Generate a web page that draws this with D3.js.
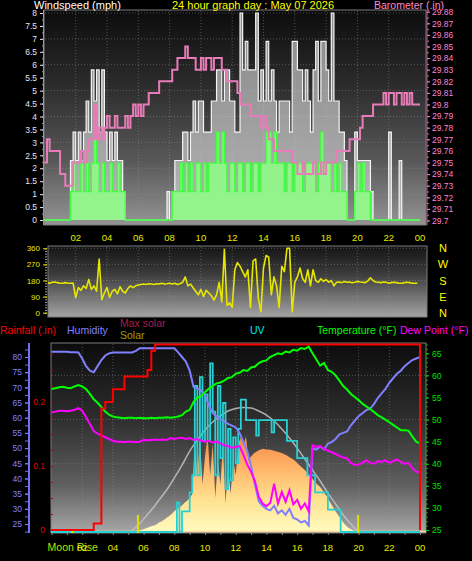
<!DOCTYPE html>
<html><head><meta charset="utf-8">
<script src="https://cdn.jsdelivr.net/npm/d3@7"></script>
<style>
html,body{margin:0;padding:0;background:#000;}
svg{display:block;}
text{font-family:"Liberation Sans",Arial,sans-serif;}
</style></head><body>
<svg id="c" width="472" height="561"></svg>
<script>
// ---------------- DATA ----------------
const titleText = "24 hour graph day : May 07 2026";
const hourTicks = [2,4,6,8,10,12,14,16,18,20,22,24];
const hourLabels = ["02","04","06","08","10","12","14","16","18","20","22","00"];
const windTicks = [0,0.5,1,1.5,2,2.5,3,3.5,4,4.5,5,5.5,6,6.5,7,7.5,8];
const baroTicks = [29.7,29.71,29.72,29.73,29.74,29.75,29.76,29.77,29.78,29.79,29.8,29.81,29.82,29.83,29.84,29.85,29.86,29.87,29.88];
const dirTicks = [0,90,180,270,360];
const compass = ["N","W","S","E","N"];
const compassDeg = [360,270,180,90,0];
const humTicks = [25,30,35,40,45,50,55,60,65,70,75,80];
const rainTicks = [0,0.1,0.2];
const tempTicks = [25,30,35,40,45,50,55,60,65];

// 10-minute samples (144 per day)
const windGust = [
0,0,0,0,0,0,0,0,0,0,
2.3,3.4,2.3,3.4,2.3,3.4,4.6,3.4,5.8,4.6,
5.8,3.4,5.8,3.4,2.3,3.4,2.3,3.4,2.3,2.3,
1.1,0,0,0,0,0,0,0,0,0,
0,0,0,0,0,0,0,1.1,0,1.1,
2.3,2.3,2.3,3.4,3.4,2.3,3.4,4.6,3.4,4.6,
4.6,3.4,3.4,3.4,4.6,4.6,5.8,5.8,4.6,5.8,
5.8,4.6,4.6,3.4,3.4,8.0,5.8,6.9,5.8,5.8,
5.8,8.0,4.6,5.8,4.6,6.9,4.6,5.8,4.6,3.4,
4.6,4.6,4.6,4.6,3.4,6.9,6.9,5.8,5.8,4.6,
5.8,4.6,3.4,5.8,6.9,4.6,6.9,6.9,5.8,4.6,
8.0,4.6,4.6,3.4,3.4,2.3,0,0,0,3.4,
2.3,2.3,2.3,2.3,2.3,1.1,0,0,0,0,
0,0,3.4,0,0,0,2.3,0,0,0,
0,0,0,0];
const windAvg = [
0,0,0,0,0,0,0,0,0,0,
1.1,2.2,1.1,1.1,2.2,1.1,2.2,1.1,2.2,3.1,
2.2,1.1,2.2,1.1,1.1,2.2,1.1,1.1,2.2,1.1,
1.1,0,0,0,0,0,0,0,0,0,
0,0,0,0,0,0,0,0,0,1.1,
1.1,1.1,2.2,1.1,2.2,1.1,2.2,1.1,2.2,2.2,
1.1,2.2,1.1,2.2,2.2,2.2,3.4,2.2,3.4,2.2,
1.1,2.2,2.2,1.1,2.2,2.2,1.1,2.2,2.2,1.1,
2.2,2.2,1.1,2.2,2.2,3.4,3.4,2.2,3.4,2.2,
2.2,2.2,1.1,2.2,2.2,1.1,2.2,2.2,2.2,1.1,
2.2,2.2,2.2,2.2,1.1,2.2,3.4,2.2,2.2,2.2,
1.1,2.2,1.1,2.2,1.1,1.1,0,0,0,1.1,
2.2,1.1,2.2,1.1,1.1,0,0,0,0,0,
0,0,0,0,0,0,0,0,0,0,
0,0,0,0];
const barometer = [
29.75,29.77,29.76,29.76,29.76,29.76,29.74,29.74,29.73,29.73,
29.73,29.75,29.75,29.75,29.76,29.75,29.76,29.77,29.77,29.80,
29.77,29.78,29.77,29.78,29.79,29.78,29.78,29.79,29.78,29.78,
29.78,29.79,29.78,29.79,29.80,29.79,29.80,29.79,29.80,29.80,
29.81,29.81,29.81,29.81,29.82,29.82,29.82,29.82,29.82,29.83,
29.83,29.84,29.84,29.84,29.85,29.84,29.84,29.84,29.83,29.83,
29.84,29.83,29.84,29.84,29.83,29.84,29.84,29.84,29.83,29.83,
29.82,29.82,29.82,29.82,29.81,29.80,29.80,29.80,29.80,29.79,
29.79,29.79,29.79,29.78,29.79,29.78,29.77,29.77,29.76,29.76,
29.76,29.76,29.76,29.76,29.76,29.75,29.75,29.74,29.74,29.75,
29.74,29.74,29.74,29.75,29.74,29.74,29.75,29.74,29.75,29.75,
29.75,29.75,29.76,29.76,29.76,29.76,29.76,29.77,29.77,29.77,
29.77,29.78,29.79,29.79,29.79,29.79,29.80,29.80,29.80,29.80,
29.81,29.80,29.81,29.81,29.80,29.81,29.81,29.80,29.81,29.80,
29.81,29.80,29.80,29.80];
const windDir = [
165,168,165,170,172,168,165,165,168,165,165,166,
84,140,125,150,135,186,130,150,120,300,73,110,140,85,
120,130,105,145,120,110,135,150,140,
150,155,158,160,158,162,160,158,162,160,165,160,162,165,160,165,158,162,170,
200,150,160,140,120,100,130,90,125,110,95,70,100,170,60,355,
40,55,30,240,280,260,230,200,240,30,290,300,80,5,250,320,310,
100,200,150,30,260,230,360,360,5,170,200,250,190,170,240,
150,240,180,170,190,175,185,170,180,150,
170,172,168,175,170,172,168,170,175,172,170,168,178,195,180,172,
170,168,172,170,165,168,170,168,165,165,168,170,168,165,165,165];

// 15-minute samples (97 points, 00:00 .. 24:00)
const humidity = [
81.7,81.7,81.7,81.7,81.7,81.6,81.6,81.5,
79.5,77,75.5,75,77,79,80.5,81.2,
81.5,81.5,81.5,81.5,81.5,81.5,
82,82.9,82.9,82.9,82.9,82.9,82.9,82.9,82.9,82.9,82.9,
81.5,80,78.5,
75.5,70.2,69.6,69,67.5,64,61.5,60.5,59.5,58.8,58,57.4,56.8,55,52,49,44,38,32.5,31,
30,29.5,31,28.5,29.5,28,30,27,26.5,25.5,26,24.5,
50,49.5,50.5,49.5,51.5,52,53,54.5,55,55.5,57.5,59,60.5,61.5,62.5,63,64.5,66.5,68,69.5,71.5,73,74.5,75.5,77,78,79,79.5,80];
const temperature = [
56.9,57.1,57.3,57.4,57.2,57.1,57.5,57.8,
57.5,56.9,55.8,54.6,53.8,52.8,51.8,51.1,
50.7,50.5,50.4,50.3,50.4,50.4,50.3,50.4,50.3,50.3,50.4,50.3,50.4,50.4,50.5,50.4,
50.5,
50.7,51.0,51.8,52.2,54.0,55.0,55.3,56.2,57.0,57.6,58.2,58.4,58.8,59.4,59.6,
60.4,60.6,61.2,61.0,61.8,62.0,62.8,63.2,63.4,64.2,64.6,65.0,64.8,65.4,65.2,65.8,65.6,66.2,66.0,66.5,
65.0,63.6,62.2,62.8,61.2,60.8,60.0,58.8,57.6,56.8,55.8,55.1,54.4,53.6,53.0,52.4,51.7,51.0,50.5,50.0,49.4,48.8,48.2,47.6,47.6,47.5,46.2,45.0,44.6];
const dewPoint = [
51.6,51.8,52.0,52.0,51.9,52.0,52.2,52.6,
52.0,50.6,49.0,47.4,46.8,46.4,46.0,45.6,
45.2,45.0,45.0,44.9,45.0,45.0,44.9,45.0,45.4,45.3,45.4,45.5,45.4,45.5,45.4,45.8,
45.6,45.8,45.9,45.6,45.8,45.4,45.6,45.2,45.0,45.2,44.8,45.0,44.6,44.2,44.0,43.6,
43.8,44.0,42.0,39.8,38.2,36.0,32.5,31.0,30.4,31.2,35.5,31.0,33.6,31.4,34.0,30.8,31.8,29.8,31.0,29.2,
44.2,43.8,44.0,43.4,43.0,42.6,42.2,41.8,41.4,41.2,40.2,39.7,39.8,40.2,40.8,40.2,40.0,40.6,40.4,40.8,40.2,40.6,41.0,40.4,40.0,40.2,39.0,38.2,38.0];
const rainfall = [
0,0,0,0,0,0,0,0,0,0,0,
0.01,0.01,0.19,0.2,0.2,0.22,0.22,0.22,0.24,0.24,0.24,0.24,0.24,0.24,0.25,0.28,
0.29,0.29,0.29,0.29,0.29,0.29,0.29,0.29,0.29,0.29,0.29,0.29,0.29,0.29,0.29,0.29,0.29,0.29,0.29,0.29,
0.29,0.29,0.29,0.29,0.29,0.29,0.29,0.29,0.29,0.29,0.29,0.29,0.29,0.29,0.29,0.29,0.29,0.29,0.29,0.29,
0.29,0.29,0.29,0.29,0.29,0.29,0.29,0.29,0.29,0.29,0.29,0.29,0.29,0.29,0.29,0.29,0.29,0.29,0.29,0.29,
0.29,0.29,0.29,0.29,0.29,0.29,0.29,0.29,0.29,
0];
// 30-minute samples (49 points)
const maxSolar = [
0,0,0,0,0,0,0,0,0,0,0,
26,69,116,169,222,286,354,428,487,540,582,614,640,653,659,656,640,619,587,545,497,444,386,328,270,206,148,90,42,5,
0,0,0,0,0,0,0,0];
// 10-minute samples (145 points)
const solar = [
0,0,0,0,0,0,0,0,0,0,0,0,0,0,0,0,0,0,0,0,0,0,0,0,0,0,0,0,0,0,0,0,
3,5,8,10,15,20,25,30,35,40,50,55,65,75,85,95,110,120,130,140,155,165,
180,200,480,300,500,250,400,510,300,470,180,380,250,460,150,350,200,380,300,470,500,460,505,380,400,415,425,432,438,440,
435,436,434,430,426,422,418,412,405,395,388,378,365,352,340,328,312,296,280,265,250,238,220,200,180,155,132,110,90,70,50,35,22,14,8,3,0,
0,0,0,0,0,0,0,0,0,0,0,0,0,0,0,0,0,0,0,0,0,0,0,0];
const uvIndex = [
0,0,0,0,0,0,0,0,0,0,0,0,0,0,0,0,0,0,0,0,0,0,0,0,0,0,0,0,0,0,0,0,0,0,0,0,0,0,0,0,0,0,0,0,0,0,0,0,0,
1.7,0,1.2,1.2,1.2,2.3,3.3,8.5,3.3,9.0,5.3,8.0,5.3,9.8,7.0,3.3,8.5,4.3,7.5,2.5,6.0,3.0,5.5,4.0,6.0,7.7,7.7,
6.5,6.5,6.5,6.5,5.6,6.5,6.5,6.5,6.5,6.5,5.8,6.5,6.5,6.5,6.5,6.5,5.3,5.3,5.3,5.3,4.3,4.3,4.3,4.3,3.3,3.3,3.3,
2.3,2.3,2.3,2.3,2.3,1.3,1.3,1.3,1.3,1.3,
0,0,0,0,0,0,0,0,0,0,0,0,0,0,0,0,0,0,0,0,0,0,0,0,0,0,0,0,0,0,0,0];
const sunEvents = [5.63, 19.97];
const moonRiseHour = 1.38;

// ---------------- DRAW ----------------
const svg = d3.select('#c');
const defs = svg.append('defs');
function vGrad(id, stops, user){
  const g = defs.append('linearGradient').attr('id', id);
  if (user) g.attr('gradientUnits','userSpaceOnUse').attr('x1',0).attr('x2',0).attr('y1',user[0]).attr('y2',user[1]);
  else g.attr('x1',0).attr('y1',0).attr('x2',0).attr('y2',1);
  stops.forEach(s => g.append('stop').attr('offset', s[0]).attr('stop-color', s[1]));
}
vGrad('g1', [[0,'#0c0c0c'],[0.35,'#2c2c2c'],[0.7,'#585858'],[1,'#949494']]);
vGrad('g2', [[0,'#141414'],[0.4,'#3c3c3c'],[1,'#a4a4a4']]);
vGrad('g3', [[0,'#0c0c0c'],[0.4,'#2e2e2e'],[0.75,'#606060'],[1,'#a8a8a8']]);
vGrad('gs', [[0,'#fffbc0'],[0.35,'#ffe290'],[0.7,'#ffb468'],[1,'#f68c48']], [532, 440]);

const P1 = {x0:44, x1:426, y0:10, y1:225};
const P2 = {x0:48, x1:427, y0:246, y1:317};
const P3 = {x0:51, x1:426, y0:343, y1:533};
function clip(id, P){ defs.append('clipPath').attr('id', id).append('rect').attr('x',P.x0).attr('y',P.y0).attr('width',P.x1-P.x0).attr('height',P.y1-P.y0); }
clip('c1',P1); clip('c2',P2); clip('c3',P3);
function panel(P, g){
  svg.append('rect').attr('x',P.x0).attr('y',P.y0).attr('width',P.x1-P.x0).attr('height',P.y1-P.y0)
    .attr('fill','url(#'+g+')').attr('stroke','#7a7a7a').attr('stroke-width',1);
}
panel(P1,'g1'); panel(P2,'g2'); panel(P3,'g3');

const xTop = d3.scaleLinear([0,24],[44.4,420]);
const xBot = d3.scaleLinear([0,24],[51.5,420]);
const yWind = d3.scaleLinear([0,8],[220,13]);
const yBaro = d3.scaleLinear([29.7,29.88],[220.5,11.7]);
const yDir = d3.scaleLinear([0,360],[312.7,248.3]);
const yHum = d3.scaleLinear([25,80],[524,357]);
const yRain = d3.scaleLinear([0,0.2],[530,402]);
const yTemp = d3.scaleLinear([25,65],[530,353.3]);
const ySolar = d3.scaleLinear([0,1000],[532,343]);
const yUV = d3.scaleLinear([0,10],[532,360]);

// grids
function grid(P, xs, ys){
  const g = svg.append('g').attr('stroke','#9a9a9a').attr('stroke-opacity',0.45).attr('stroke-dasharray','1,2').attr('stroke-width',1);
  xs.forEach(x => g.append('line').attr('x1',x).attr('x2',x).attr('y1',P.y0+1).attr('y2',P.y1-1));
  ys.forEach(y => g.append('line').attr('x1',P.x0+1).attr('x2',P.x1-1).attr('y1',y).attr('y2',y));
}
grid(P1, hourTicks.slice(0,11).map(h=>xTop(h)), [1,2,3,4,5,6,7,8].map(v=>yWind(v)));
grid(P2, hourTicks.slice(0,11).map(h=>xTop(h)), [90,180,270,360].map(v=>yDir(v)));
grid(P3, hourTicks.slice(0,11).map(h=>xBot(h)), [30,40,50,60].map(v=>yTemp(v)));

function style(g, color, size){
  g.select('.domain').remove();
  g.selectAll('line').attr('stroke', color);
  g.selectAll('text').attr('fill', color).attr('font-size', size).attr('font-family','"Liberation Sans",Arial,sans-serif');
  return g;
}
const fmt = d => String(+(+d).toFixed(2));

// ---- top panel ----
const tenMin = 1/6;
const pts = arr => { const p = arr.map((v,i)=>[i*tenMin, v]); p.push([24, arr[arr.length-1]]); return p; };
const topLayer = svg.append('g').attr('clip-path','url(#c1)');
const areaW = d3.area().curve(d3.curveStepAfter).x(d=>xTop(d[0])).y0(yWind(0)).y1(d=>yWind(d[1]));
const lineW = d3.line().curve(d3.curveStepAfter).x(d=>xTop(d[0])).y(d=>yWind(d[1]));
topLayer.append('path').attr('d', areaW(pts(windGust))).attr('fill','#d8d8d8').attr('fill-opacity',0.62);
topLayer.append('path').attr('d', lineW(pts(windGust))).attr('fill','none').attr('stroke','#f4f4f4').attr('stroke-width',1.2);
topLayer.append('path').attr('d', areaW(pts(windAvg))).attr('fill','#8cff84').attr('fill-opacity',0.85);
topLayer.append('path').attr('d', lineW(pts(windAvg))).attr('fill','none').attr('stroke','#3cff3c').attr('stroke-width',1.3);
const lineB = d3.line().curve(d3.curveStepAfter).x(d=>xTop(d[0])).y(d=>yBaro(d[1]));
topLayer.append('path').attr('d', lineB(pts(barometer))).attr('fill','none').attr('stroke','#e87cb8').attr('stroke-width',2);

style(svg.append('g').attr('transform','translate(44,0)').call(d3.axisLeft(yWind).tickValues(d3.range(0,8.01,0.25)).tickSize(2).tickFormat('')), '#9a9a9a', 8);
style(svg.append('g').attr('transform','translate(44,0)').call(d3.axisLeft(yWind).tickValues(windTicks).tickSize(4).tickPadding(3).tickFormat(fmt)), '#e4e4f4', '8.5px');
svg.append('line').attr('x1',43.5).attr('x2',43.5).attr('y1',P1.y0).attr('y2',P1.y1).attr('stroke','#9a9a9a');
style(svg.append('g').attr('transform','translate(427,0)').call(d3.axisRight(yBaro).tickValues(d3.range(0,37).map(k=>29.7+k*0.005)).tickSize(2).tickFormat('')), '#d070a8', 8);
style(svg.append('g').attr('transform','translate(427,0)').call(d3.axisRight(yBaro).tickValues(baroTicks).tickSize(3).tickPadding(2).tickFormat(fmt)), '#ff80c8', '8.5px');
svg.append('line').attr('x1',427).attr('x2',427).attr('y1',P1.y0).attr('y2',P1.y1).attr('stroke','#b06890');

svg.append('text').attr('x',34).attr('y',8.5).attr('fill','#ffffff').attr('font-size','11px').text('Windspeed (mph)');
svg.append('text').attr('x',253).attr('y',8.5).attr('text-anchor','middle').attr('fill','#ffff00').attr('font-size','11px').text(titleText);
svg.append('text').attr('x',444).attr('y',8.5).attr('text-anchor','end').attr('fill','#ff88c8').attr('font-size','10.5px').text('Barometer (.in)');

// hour labels between top and middle panels
svg.append('g').selectAll('text').data(hourTicks).join('text')
  .attr('x', h=>xTop(h)).attr('y', 240.5).attr('text-anchor','middle').attr('fill','#e8e800').attr('font-size','9.5px')
  .text((h,i)=>hourLabels[i]);

// ---- middle panel ----
const midLayer = svg.append('g').attr('clip-path','url(#c2)');
const lineD = d3.line().x((d,i)=>xTop(i*tenMin)).y(d=>yDir(d));
midLayer.append('path').attr('d', lineD(windDir)).attr('fill','none').attr('stroke','#e6e600').attr('stroke-width',1.6).attr('stroke-linejoin','round');
style(svg.append('g').attr('transform','translate(47,0)').call(d3.axisLeft(yDir).tickValues(d3.range(0,361,15)).tickSize(2).tickFormat('')), '#9a9a9a', 8);
style(svg.append('g').attr('transform','translate(47,0)').call(d3.axisLeft(yDir).tickValues(dirTicks).tickSize(4).tickPadding(3)), '#e8e800', '8px');
svg.append('g').selectAll('text').data(compass).join('text')
  .attr('x',443).attr('y',(d,i)=>yDir(compassDeg[i])+4).attr('text-anchor','middle').attr('fill','#ffff00').attr('font-size','11px').text(d=>d);

// ---- legend ----
const leg = svg.append('g').attr('font-size','10.5px');
leg.append('text').attr('x',0).attr('y',334).attr('fill','#ff0000').text('Rainfall (.in)');
leg.append('text').attr('x',67).attr('y',334).attr('fill','#8080ff').text('Humidity');
leg.append('text').attr('x',120).attr('y',327).attr('fill','#a81e48').text('Max solar');
leg.append('text').attr('x',120).attr('y',339).attr('fill','#a0a000').text('Solar');
leg.append('text').attr('x',250).attr('y',334).attr('fill','#00e8e8').text('UV');
leg.append('text').attr('x',317).attr('y',334).attr('fill','#00ff00').text('Temperature (°F)');
leg.append('text').attr('x',400).attr('y',334).attr('fill','#ff00ff').text('Dew Point (°F)');

// ---- bottom panel ----
const botLayer = svg.append('g').attr('clip-path','url(#c3)');
const q = 0.25, half = 0.5;
const solarArea = d3.area().x((d,i)=>xBot(i*tenMin)).y0(ySolar(0)).y1(d=>ySolar(d));
botLayer.append('path').attr('d', solarArea(solar)).attr('fill','url(#gs)');
botLayer.append('line').attr('x1',P3.x0).attr('x2',P3.x1).attr('y1',531.5).attr('y2',531.5).attr('stroke','#ffd8a0').attr('stroke-width',1.5);
const msLine = d3.line().curve(d3.curveMonotoneX).x((d,i)=>xBot(i*half)).y(d=>ySolar(d));
botLayer.append('path').attr('d', msLine(maxSolar)).attr('fill','none').attr('stroke','#c4c4c4').attr('stroke-width',1.5).attr('stroke-opacity',0.85);
const uvLine = d3.line().curve(d3.curveStepAfter).x((d,i)=>xBot(i*tenMin)).y(d=>yUV(d));
botLayer.append('path').attr('d', uvLine(uvIndex)).attr('fill','none').attr('stroke','#28d0d4').attr('stroke-width',1.8);
const humLine = d3.line().x((d,i)=>xBot(i*q)).y(d=>yHum(d));
botLayer.append('path').attr('d', humLine(humidity)).attr('fill','none').attr('stroke','#8080ff').attr('stroke-width',2);
const tLine = d3.line().x((d,i)=>xBot(i*q)).y(d=>yTemp(d));
botLayer.append('path').attr('d', tLine(temperature)).attr('fill','none').attr('stroke','#00ff00').attr('stroke-width',2);
botLayer.append('path').attr('d', tLine(dewPoint)).attr('fill','none').attr('stroke','#ff00ff').attr('stroke-width',2);
const rLine = d3.line().curve(d3.curveStepAfter).x((d,i)=>xBot(i*q)).y(d=>yRain(d));
botLayer.append('path').attr('d', rLine(rainfall)).attr('fill','none').attr('stroke','#ff0000').attr('stroke-width',2);
// sun / moon markers
sunEvents.forEach(h => botLayer.append('line').attr('x1',xBot(h)).attr('x2',xBot(h)).attr('y1',515).attr('y2',533).attr('stroke','#e0e000').attr('stroke-width',2));
botLayer.append('line').attr('x1',xBot(moonRiseHour)-1.5).attr('x2',xBot(moonRiseHour)+1.5).attr('y1',532).attr('y2',532).attr('stroke','#e0e000').attr('stroke-width',2);

// humidity axis (left)
svg.append('line').attr('x1',29).attr('x2',29).attr('y1',343).attr('y2',533).attr('stroke','#7070f0').attr('stroke-width',2);
style(svg.append('g').attr('transform','translate(28,0)').call(d3.axisLeft(yHum).tickValues(d3.range(22.5,85,2.5)).tickSize(3).tickFormat('')), '#7070f0', 8);
style(svg.append('g').attr('transform','translate(28,0)').call(d3.axisLeft(yHum).tickValues(humTicks).tickSize(3).tickPadding(3)), '#8080ff', '8.5px');
// rain axis
style(svg.append('g').attr('transform','translate(51,0)').call(d3.axisRight(yRain).tickValues(d3.range(0,0.3,0.025)).tickSize(2).tickFormat('')), '#c00000', 8);
style(svg.append('g').attr('transform','translate(47,0)').call(d3.axisLeft(yRain).tickValues(rainTicks).tickSize(0).tickPadding(2).tickFormat(fmt)), '#e00000', '8.5px');
// temperature axis (right)
style(svg.append('g').attr('transform','translate(426,0)').call(d3.axisRight(yTemp).tickValues(d3.range(25,68,1)).tickSize(2).tickFormat('')), '#00b000', 8);
style(svg.append('g').attr('transform','translate(426,0)').call(d3.axisRight(yTemp).tickValues(tempTicks).tickSize(3).tickPadding(3)), '#00e000', '8.5px');
// bottom hour ticks + labels
style(svg.append('g').attr('transform','translate(0,533)').call(d3.axisBottom(xBot).tickValues(d3.range(0,25,1)).tickSize(2).tickFormat('')), '#8a8a8a', 8);
svg.append('text').attr('x',xBot(moonRiseHour)).attr('y',551).attr('text-anchor','middle').attr('fill','#b8e000').attr('font-size','10.5px').text('Moon Rise');
svg.append('g').selectAll('text').data(hourTicks).join('text')
  .attr('x', h=>xBot(h)).attr('y', 551).attr('text-anchor','middle').attr('fill','#e8e800').attr('font-size','9.5px')
  .text((h,i)=>hourLabels[i]);
</script></body></html>
